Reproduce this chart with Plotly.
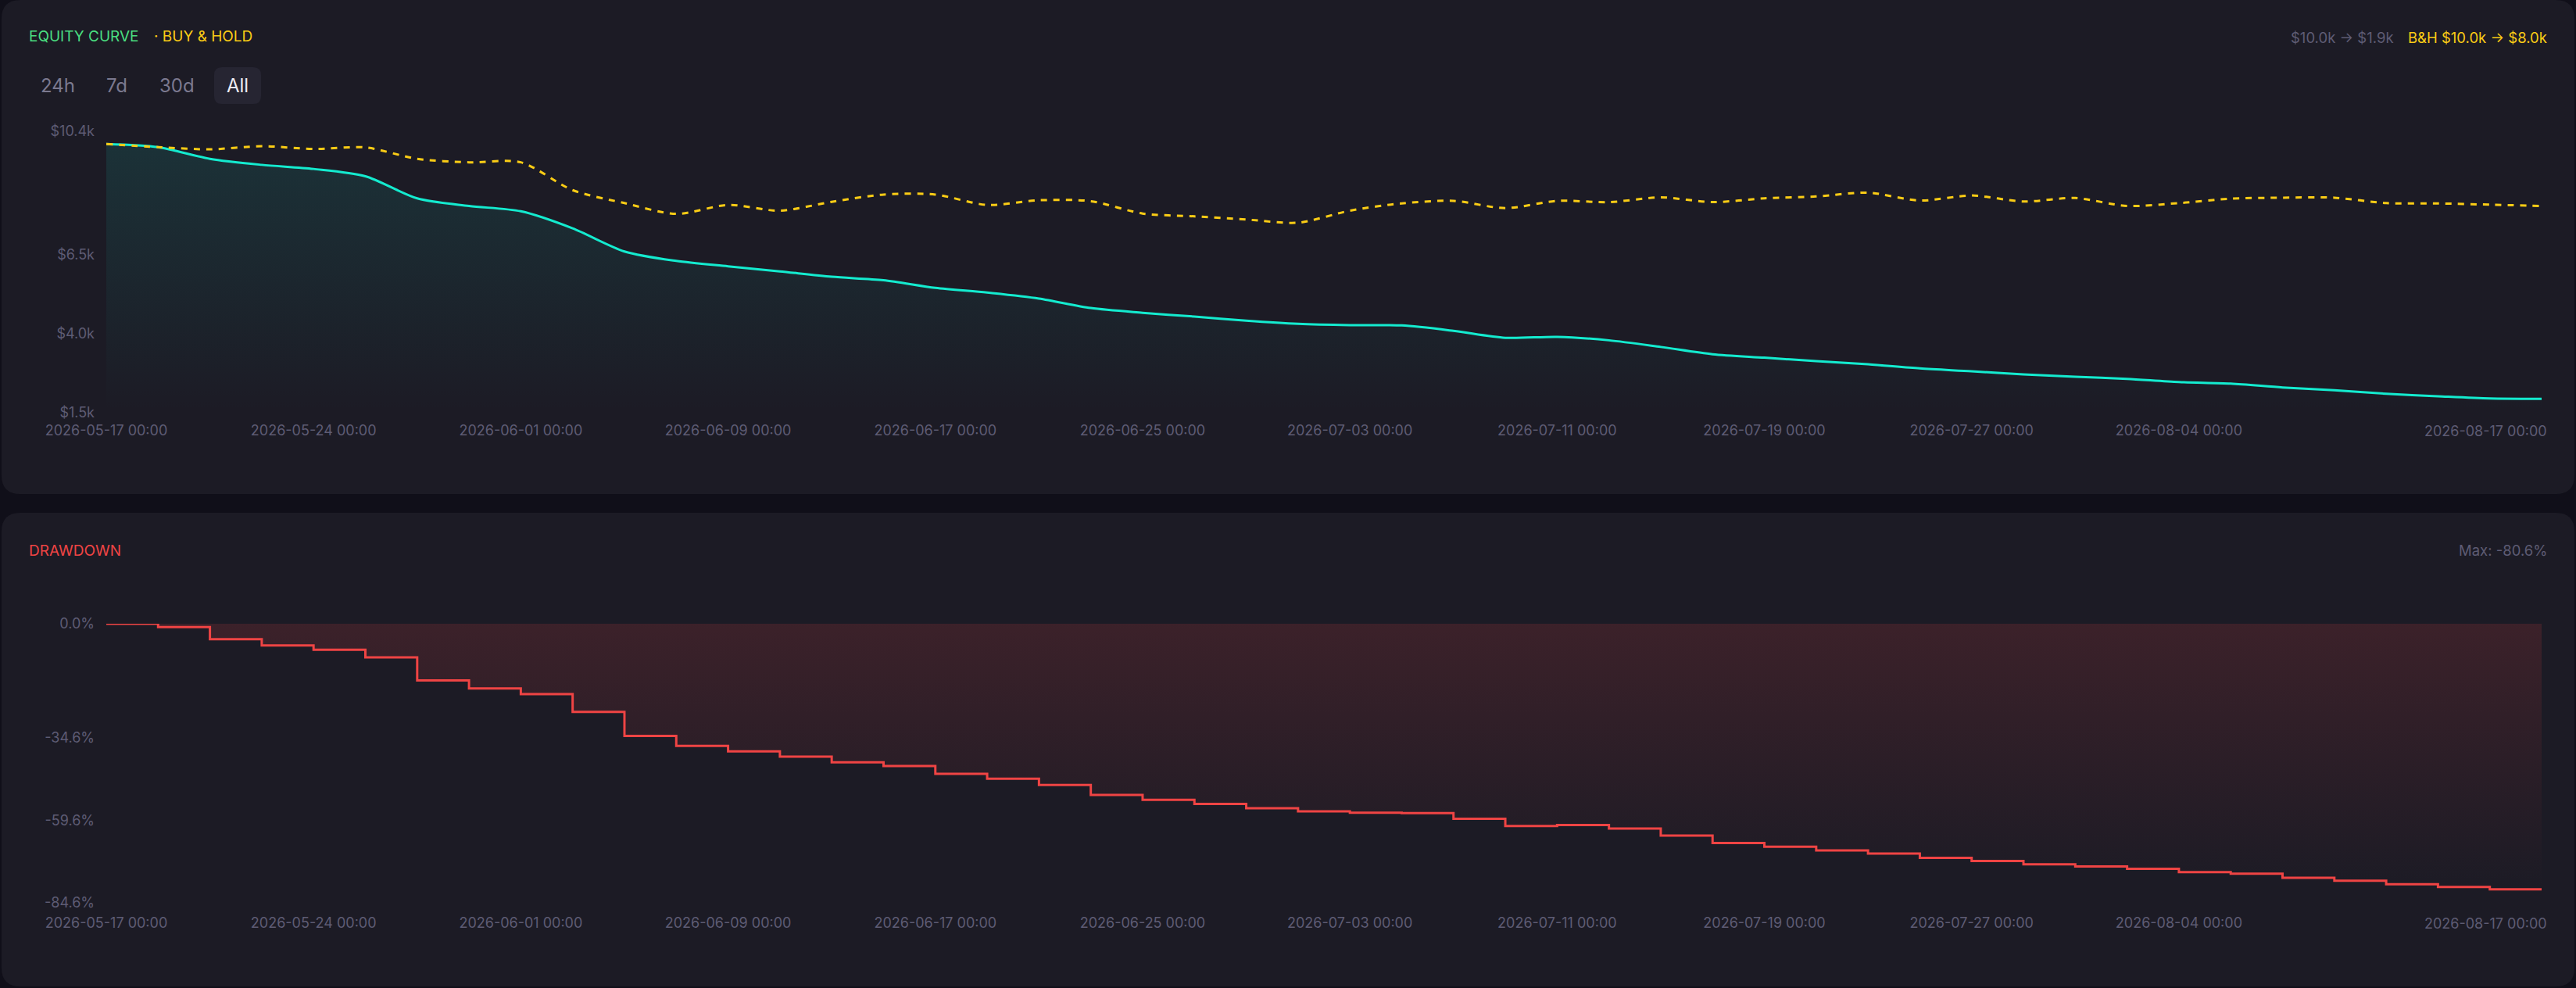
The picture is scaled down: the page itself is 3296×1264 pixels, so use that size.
"""Equity curve vs buy & hold, with a stepped drawdown panel underneath."""

import plotly.graph_objects as go

# ---------------------------------------------------------------- data
DATES = [
    "2026-05-17 00:00", "2026-05-19 00:00", "2026-05-21 00:00", "2026-05-22 00:00",
    "2026-05-24 00:00", "2026-05-26 00:00", "2026-05-28 00:00", "2026-05-30 00:00",
    "2026-06-01 00:00", "2026-06-03 00:00", "2026-06-05 00:00", "2026-06-07 00:00",
    "2026-06-09 00:00", "2026-06-11 00:00", "2026-06-13 00:00", "2026-06-15 00:00",
    "2026-06-17 00:00", "2026-06-19 00:00", "2026-06-21 00:00", "2026-06-23 00:00",
    "2026-06-25 00:00", "2026-06-27 00:00", "2026-06-29 00:00", "2026-07-01 00:00",
    "2026-07-03 00:00", "2026-07-05 00:00", "2026-07-07 00:00", "2026-07-09 00:00",
    "2026-07-11 00:00", "2026-07-13 00:00", "2026-07-15 00:00", "2026-07-17 00:00",
    "2026-07-19 00:00", "2026-07-21 00:00", "2026-07-23 00:00", "2026-07-25 00:00",
    "2026-07-27 00:00", "2026-07-29 00:00", "2026-07-31 00:00", "2026-08-02 00:00",
    "2026-08-04 00:00", "2026-08-06 00:00", "2026-08-08 00:00", "2026-08-10 00:00",
    "2026-08-12 00:00", "2026-08-13 00:00", "2026-08-15 00:00", "2026-08-17 00:00",
]

EQUITY = [
    10000, 9900, 9530, 9340, 9210, 8980, 8280, 8040,
    7870, 7330, 6600, 6300, 6130, 5970, 5800, 5690,
    5450, 5300, 5110, 4810, 4660, 4540, 4410, 4310,
    4270, 4260, 4090, 3870, 3900, 3790, 3580, 3350,
    3240, 3130, 3030, 2900, 2810, 2710, 2640, 2570,
    2470, 2420, 2300, 2210, 2100, 2020, 1950, 1940,
]

BUY_HOLD = [
    10000, 9900, 9830, 9930, 9840, 9890, 9530, 9420,
    9420, 8540, 8130, 7790, 8070, 7890, 8170, 8400,
    8400, 8070, 8220, 8190, 7800, 7710, 7610, 7510,
    7890, 8120, 8200, 7970, 8200, 8160, 8310, 8160,
    8280, 8340, 8460, 8210, 8370, 8180, 8290, 8040,
    8130, 8270, 8300, 8300, 8130, 8120, 8080, 8040,
]

DRAWDOWN_PCT = [
    0.0, -1.0, -4.7, -6.6, -7.9, -10.2, -17.2, -19.6,
    -21.3, -26.7, -34.0, -37.0, -38.7, -40.3, -42.0, -43.1,
    -45.5, -47.0, -48.9, -51.9, -53.4, -54.6, -55.9, -56.9,
    -57.3, -57.4, -59.1, -61.3, -61.0, -62.1, -64.2, -66.5,
    -67.6, -68.7, -69.7, -71.0, -71.9, -72.9, -73.6, -74.3,
    -75.3, -75.8, -77.0, -77.9, -79.0, -79.8, -80.5, -80.6,
]

X_TICK_LABELS = [
    "2026-05-17 00:00", "2026-05-24 00:00", "2026-06-01 00:00", "2026-06-09 00:00",
    "2026-06-17 00:00", "2026-06-25 00:00", "2026-07-03 00:00", "2026-07-11 00:00",
    "2026-07-19 00:00", "2026-07-27 00:00", "2026-08-04 00:00",
]
X_LAST_LABEL = "2026-08-17 00:00"

EQUITY_TICK_VALUES = [10400, 6500, 4000, 1500]
EQUITY_TICK_LABELS = ["$10.4k", "$6.5k", "$4.0k", "$1.5k"]
DD_TICK_VALUES = [0.0, -34.6, -59.6, -84.6]
DD_TICK_LABELS = ["0.0%", "-34.6%", "-59.6%", "-84.6%"]

RANGE_BUTTONS = ["24h", "7d", "30d", "All"]

# ---------------------------------------------------------------- style
W, H = 3296, 1264
FONT = "Inter"
PAGE_BG = "#100f19"
PANEL_BG = "#1c1b25"
BUTTON_BG = "#262532"
MUTED = "#5e5c74"
TEAL = "#14ebcf"
YELLOW = "#facc15"
GREEN = "#4ade80"
RED = "#ef4444"


def px_x(x):
    return x / W


def px_y(y):
    return 1 - y / H


def rounded_rect(x0, y0, x1, y1, r, color):
    """Rounded rectangle shape given in screen pixels (y pointing down)."""
    X0, X1 = px_x(x0), px_x(x1)
    YT, YB = px_y(y0), px_y(y1)
    rx, ry = r / W, r / H
    path = (
        f"M {X0 + rx},{YT} L {X1 - rx},{YT} Q {X1},{YT} {X1},{YT - ry} "
        f"L {X1},{YB + ry} Q {X1},{YB} {X1 - rx},{YB} "
        f"L {X0 + rx},{YB} Q {X0},{YB} {X0},{YB + ry} "
        f"L {X0},{YT - ry} Q {X0},{YT} {X0 + rx},{YT} Z"
    )
    return dict(type="path", path=path, xref="paper", yref="paper",
                fillcolor=color, line=dict(width=0), layer="below")


def label(text, x, y, color, size=18, anchor="left"):
    return dict(text=text, x=px_x(x), y=px_y(y), xref="paper", yref="paper",
                xanchor=anchor, yanchor="middle", showarrow=False,
                font=dict(family=FONT, size=size, color=color))


fig = go.Figure()

fig.add_trace(go.Scatter(
    x=DATES, y=EQUITY, mode="lines", name="Equity",
    line=dict(color=TEAL, width=3, shape="spline", smoothing=0.8),
    fill="tozeroy",
    fillgradient=dict(type="vertical", start=1500, stop=max(EQUITY),
                      colorscale=[[0, "rgba(20,235,207,0)"], [1, "rgba(20,235,207,0.11)"]]),
    xaxis="x", yaxis="y",
))
fig.add_trace(go.Scatter(
    x=DATES, y=BUY_HOLD, mode="lines", name="Buy & Hold",
    line=dict(color=YELLOW, width=3, dash="8px,8px", shape="spline", smoothing=0.8),
    xaxis="x", yaxis="y",
))
fig.add_trace(go.Scatter(
    x=DATES, y=DRAWDOWN_PCT, mode="lines", name="Drawdown",
    line=dict(color=RED, width=3, shape="hv"),
    fill="tozeroy",
    fillgradient=dict(type="vertical", start=min(DRAWDOWN_PCT), stop=0,
                      colorscale=[[0, "rgba(239,68,68,0)"], [1, "rgba(239,68,68,0.15)"]]),
    xaxis="x2", yaxis="y2",
))

x_common = dict(
    type="category", range=[0, len(DATES) - 1], domain=[px_x(136), px_x(3252)],
    showgrid=False, zeroline=False, showline=False, ticks="", automargin=False,
    tickmode="array", tickvals=X_TICK_LABELS, ticktext=X_TICK_LABELS,
    tickfont=dict(family=FONT, size=18, color=MUTED),
)
y_common = dict(
    showgrid=False, zeroline=False, showline=False, ticks="", tickmode="array",
    automargin=False,
    tickfont=dict(family=FONT, size=18, color=MUTED), ticklabelstandoff=14,
)

fig.update_layout(
    width=W, height=H, autosize=False,
    margin=dict(l=0, r=0, t=0, b=0, pad=0, autoexpand=False),
    paper_bgcolor=PAGE_BG,
    plot_bgcolor="rgba(0,0,0,0)",
    showlegend=False,
    hovermode="x unified",
    font=dict(family=FONT, color=MUTED),
    xaxis=dict(**x_common, anchor="y", ticklabelstandoff=10),
    yaxis=dict(**y_common, domain=[px_y(528), px_y(168)], range=[1500, 10400],
               tickvals=EQUITY_TICK_VALUES, ticktext=EQUITY_TICK_LABELS, anchor="x"),
    xaxis2=dict(**x_common, anchor="y2", ticklabelstandoff=13),
    yaxis2=dict(**y_common, domain=[px_y(1155), px_y(798)], range=[-84.6, 0],
                tickvals=DD_TICK_VALUES, ticktext=DD_TICK_LABELS, anchor="x2"),
)

# panels and the selected range button
shapes = [
    rounded_rect(2, 0, 3294, 632, 24, PANEL_BG),
    rounded_rect(2, 656, 3294, 1262, 24, PANEL_BG),
    rounded_rect(274, 86, 334, 133, 10, BUTTON_BG),
]

annotations = [
    label("EQUITY CURVE", 35, 47, GREEN, size=19),
    label("· BUY & HOLD", 195, 47, YELLOW, size=19),
    label("$10.0k → $1.9k", 3065, 48, MUTED, size=18.5, anchor="right"),
    label("B&H $10.0k → $8.0k", 3261, 48, YELLOW, size=18.5, anchor="right"),
    label("DRAWDOWN", 35, 704, RED, size=19),
    label("Max: -80.6%", 3261, 704, MUTED, size=18.5, anchor="right"),
]
button_x = [73.5, 149, 226.5, 304]
for text, cx in zip(RANGE_BUTTONS, button_x):
    color = "#ecebf4" if text == "All" else "#7b798f"
    annotations.append(label(text, cx, 109, color, size=24, anchor="center"))

# last date label sits flush with the right end of the axis
for xref, ypix in (("x", 551), ("x2", 1181)):
    annotations.append(dict(
        text=X_LAST_LABEL, x=DATES[-1], xref=xref, y=px_y(ypix), yref="paper",
        xanchor="right", yanchor="middle", xshift=9, showarrow=False,
        font=dict(family=FONT, size=18, color=MUTED),
    ))

fig.update_layout(shapes=shapes, annotations=annotations)

fig.write_html(
    "out.html",
    config={"displayModeBar": False, "responsive": False},
    post_script=f"document.body.style.margin='0';document.body.style.background='{PAGE_BG}';",
)
